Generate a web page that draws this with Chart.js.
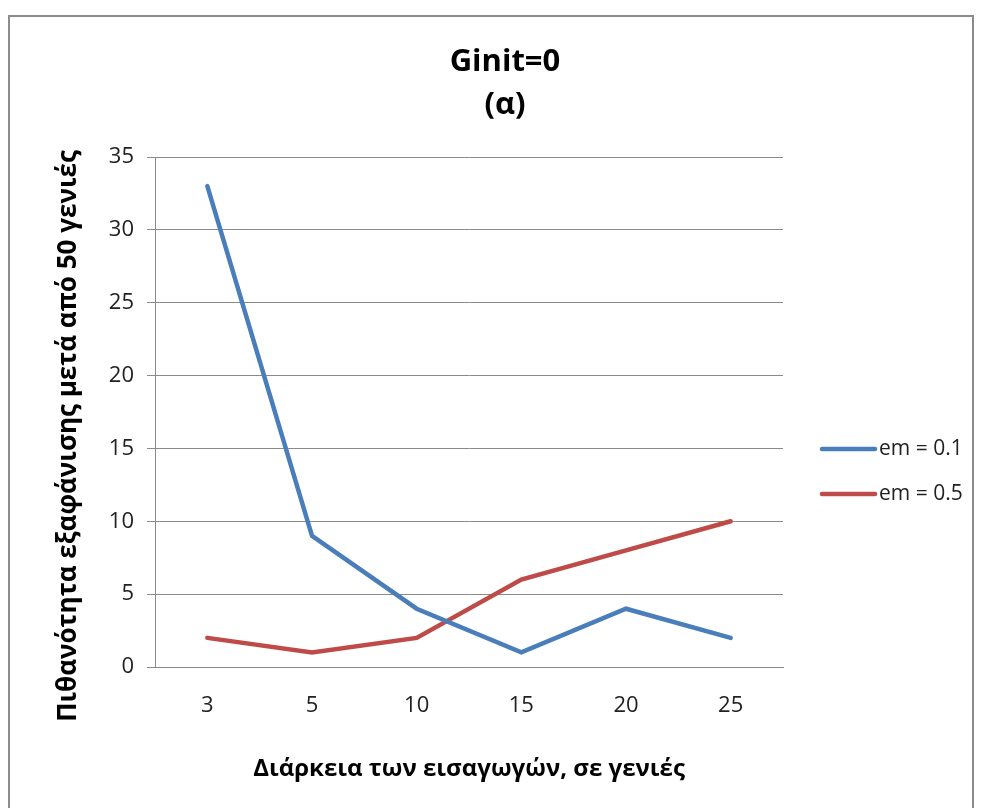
<!DOCTYPE html>
<html>
<head>
<meta charset="utf-8">
<script src="https://cdn.jsdelivr.net/npm/chart.js@4/dist/chart.umd.min.js"></script>
<style>
  html, body { margin: 0; padding: 0; background: #fff; }
  #wrap { position: relative; width: 987px; height: 808px; }
  #frame { position: absolute; left: 8px; top: 15px; width: 966px; height: 800px;
           border: 2px solid #8c8c8c; box-sizing: border-box; pointer-events: none; }
  canvas { position: absolute; left: 0; top: 0; }
</style>
</head>
<body>
<div id="wrap">
  <canvas id="c" width="987" height="808"></canvas>
  <div id="frame"></div>
</div>
<script>
// Διάρκεια των εισαγωγών (γενιές)
const categories = ['3', '5', '10', '15', '20', '25'];
// Πιθανότητα εξαφάνισης για κάθε τιμή em
const em01 = [33, 9, 4, 1, 4, 2];
const em05 = [2, 1, 2, 6, 8, 10];
const seriesNames = ['em = 0.1', 'em = 0.5'];
const yTicks = [0, 5, 10, 15, 20, 25, 30, 35];
const titleLines = ['Ginit=0', '(α)'];
const yTitle = 'Πιθανότητα εξαφάνισης μετά από 50 γενιές';
const xTitle = 'Διάρκεια των εισαγωγών, σε γενιές';

const FONT = "'Open Sans', 'Noto Sans', sans-serif";
const BLUE = '#4a7ebb';
const RED = '#be4b48';
const GRID = '#8a8a8a';

// Chart title, vertical axis title and the legend on the right
const decorations = {
  id: 'decorations',
  afterDraw(chart) {
    const ctx = chart.ctx;
    ctx.save();
    ctx.fillStyle = '#000';
    ctx.textAlign = 'center';
    ctx.textBaseline = 'middle';
    ctx.font = 'bold 31px ' + FONT;
    ctx.fillText(titleLines[0], 505, 62);
    ctx.fillText(titleLines[1], 505, 105);

    ctx.save();
    ctx.translate(69, 436);
    ctx.rotate(-Math.PI / 2);
    ctx.font = 'bold 26px ' + FONT;
    ctx.fillText(yTitle, 0, 0);
    ctx.restore();

    const x0 = chart.chartArea.right + 39;
    const ys = [449, 494];
    chart.data.datasets.forEach((ds, i) => {
      ctx.strokeStyle = ds.borderColor;
      ctx.lineWidth = 4.5;
      ctx.lineCap = 'round';
      ctx.beginPath();
      ctx.moveTo(x0, ys[i]);
      ctx.lineTo(x0 + 53, ys[i]);
      ctx.stroke();
      ctx.fillStyle = '#222';
      ctx.font = '21px ' + FONT;
      ctx.textAlign = 'left';
      ctx.fillText(ds.label, x0 + 57, ys[i]);
    });
    ctx.restore();
  }
};

new Chart(document.getElementById('c'), {
  type: 'line',
  data: {
    labels: categories,
    datasets: [
      { label: seriesNames[0], data: em01, borderColor: BLUE, backgroundColor: BLUE,
        borderWidth: 4.5, pointRadius: 0, tension: 0, borderCapStyle: 'round' },
      { label: seriesNames[1], data: em05, borderColor: RED, backgroundColor: RED,
        borderWidth: 4.5, pointRadius: 0, tension: 0, borderCapStyle: 'round' }
    ]
  },
  options: {
    responsive: false,
    animation: false,
    events: [],
    layout: { padding: { left: 0, right: 204, top: 157, bottom: 0 } },
    plugins: {
      legend: { display: false },
      tooltip: { enabled: false },
      title: { display: false }
    },
    scales: {
      x: {
        offset: true,
        grid: { display: false, drawTicks: false },
        border: { display: true, color: GRID, width: 1 },
        ticks: { color: '#222', font: { family: FONT, size: 22 }, padding: 26, maxRotation: 0 },
        title: {
          display: true,
          text: xTitle,
          color: '#000',
          font: { family: FONT, size: 24, weight: 'bold', lineHeight: 1.2 },
          padding: { top: 0, bottom: 24 }
        },
        afterFit(scale) { scale.height = 141; }
      },
      y: {
        min: 0,
        max: 35,
        afterBuildTicks(scale) { scale.ticks = yTicks.map(v => ({ value: v })); },
        grid: { color: GRID, lineWidth: 1, drawTicks: true, tickLength: 8 },
        border: { display: true, color: GRID, width: 1 },
        ticks: { color: '#222', font: { family: FONT, size: 22 }, padding: 13 },
        afterFit(scale) { scale.width = 155; }
      }
    }
  },
  plugins: [decorations]
});
</script>
</body>
</html>
